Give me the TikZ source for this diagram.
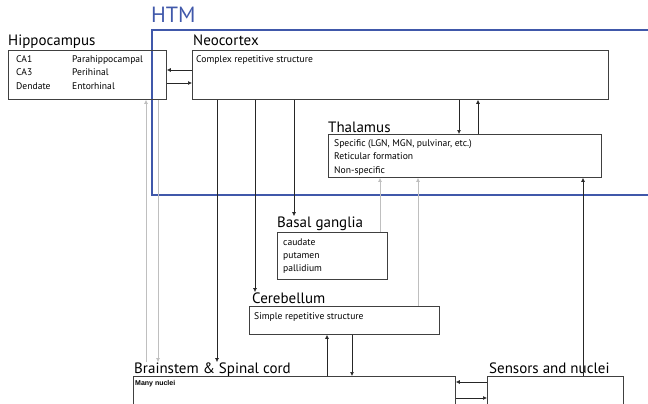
\documentclass[tikz,border=0pt]{standalone}
\usepackage{fontspec}
\setmainfont{PT Sans}
\newfontfamily\nucfont{Liberation Sans}
\usetikzlibrary{arrows.meta}
\definecolor{htmblue}{RGB}{64,88,170}
\begin{document}
\begin{tikzpicture}[x=1pt,y=-1pt,
  box/.style={draw=black!75, line width=0.8pt, anchor=north west, inner sep=0pt},
  lbl/.style={anchor=base west, inner sep=0pt, font=\fontsize{15}{17}\selectfont},
  txt/.style={anchor=base west, inner sep=0pt, font=\fontsize{9.6}{11}\selectfont},
  arr/.style={draw=black!85, line width=0.7pt, -{Latex[length=4pt,width=4pt]}},
  garr/.style={draw=black!25, line width=0.9pt, -{Latex[length=4pt,width=4pt]}}]
\clip (0,0) rectangle (648,404);
% HTM region
\node[anchor=base west, inner sep=0pt, text=htmblue, font=\fontsize{22}{24}\selectfont] (htm) at (151,23) {HTM};
\draw[htmblue, line width=1.4pt] (660,30) -- (152,30) -- (152,195) -- (660,195);
% boxes
\node[box, minimum width=158pt, minimum height=49pt] (hip) at (8,50) {};
\node[box, minimum width=416pt, minimum height=49pt] (neo) at (192,50) {};
\node[box, minimum width=273pt, minimum height=43pt] (thal) at (328,134) {};
\node[box, minimum width=110pt, minimum height=47pt] (bg) at (277,232) {};
\node[box, minimum width=190pt, minimum height=28pt] (cer) at (249,306) {};
\node[box, minimum width=322pt, minimum height=40pt] (bs) at (133,376) {};
\node[box, minimum width=136pt, minimum height=40pt] (sens) at (487,376) {};
% labels
\node[lbl] (hipl) at (8,46) {Hippocampus};
\node[lbl] (neol) at (193,46) {Neocortex};
\node[lbl] (thall) at (328,132) {Thalamus};
\node[lbl] (bgl) at (277,227) {Basal ganglia};
\node[lbl] (cerl) at (252,303) {Cerebellum};
\node[lbl] (bsl) at (134,373) {Brainstem \& Spinal cord};
\node[lbl] (sensl) at (489,373) {Sensors and nuclei};
% box texts
\node[txt] (ca1) at (16,63) {CA1};
\node[txt] (ca3) at (16,76) {CA3};
\node[txt] (den) at (16,89) {Dendate};
\node[txt] (para) at (72,63) {Parahippocampal};
\node[txt] (peri) at (72,76) {Perihinal};
\node[txt] (ento) at (72,89) {Entorhinal};
\node[txt] (cplx) at (196,63) {Complex repetitive structure};
\node[txt] (spec) at (334,146) {Specific (LGN, MGN, pulvinar, etc.)};
\node[txt] (reti) at (334,159) {Reticular formation};
\node[txt] (nons) at (334,173) {Non-specific};
\node[txt] (caud) at (283,245) {caudate};
\node[txt] (puta) at (283,258) {putamen};
\node[txt] (pall) at (283,271) {pallidium};
\node[txt] (simp) at (254,319) {Simple repetitive structure};
\node[anchor=base west, inner sep=0pt, font=\nucfont\bfseries\fontsize{7}{8}\selectfont] (many) at (135,385) {Many nuclei};
% connectors
\draw[arr] (neo.west |- 0,70) -- (hip.east |- 0,70);
\draw[arr] (hip.east |- 0,83) -- (neo.west |- 0,83);
\draw[arr] (neo.south -| 217,0) -- (bsl.north -| 217,0);
\draw[arr] (neo.south -| 255,0) -- (cerl.north -| 255,0);
\draw[arr] (neo.south -| 294,0) -- (bgl.north -| 294,0);
\draw[arr] (neo.south -| 459,0) -- (thal.north -| 459,0);
\draw[arr] (thal.north -| 478,0) -- (neo.south -| 478,0);
\draw[garr] (bg.north -| 380,0) -- (thal.south -| 380,0);
\draw[garr] (cer.north -| 418,0) -- (thal.south -| 418,0);
\draw[arr] (sens.north -| 583,0) -- (thal.south -| 583,0);
\draw[garr] (bsl.north -| 146,0) -- (hip.south -| 146,0);
\draw[garr] (hip.south -| 158,0) -- (bsl.north -| 158,0);
\draw[arr] (bs.north -| 327,0) -- (cer.south -| 327,0);
\draw[arr] (cer.south -| 352,0) -- (bs.north -| 352,0);
\draw[arr] (sens.west |- 0,382) -- (bs.east |- 0,382);
\draw[arr] (bs.east |- 0,398) -- (sens.west |- 0,398);
\end{tikzpicture}
\end{document}
